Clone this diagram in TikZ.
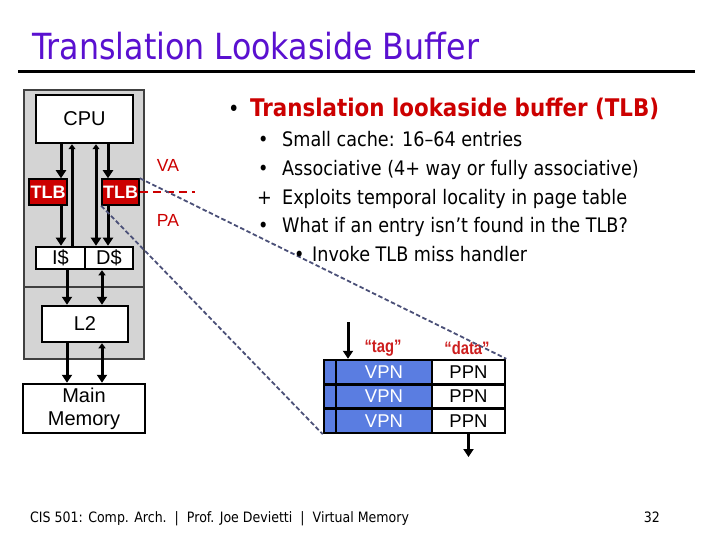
\documentclass[tikz,border=0pt]{standalone}
\usepackage{fontspec}
\usetikzlibrary{arrows.meta,calc}
\newfontfamily\tah{DejaVu Sans}[FakeStretch=0.88]
\newfontfamily\ari{Liberation Sans}
\newfontfamily\arn{Liberation Sans}[FakeStretch=0.82]
\newcommand\sz[1]{\fontsize{#1bp}{#1bp}\selectfont}
\newcommand\mmfont{\fontsize{20bp}{23bp}\selectfont}
\definecolor{ttl}{RGB}{90,16,208}
\definecolor{tlbred}{RGB}{204,0,0}
\definecolor{lblred}{RGB}{205,30,30}
\definecolor{vpnblue}{RGB}{90,125,225}
\definecolor{zoomline}{RGB}{75,80,120}
\definecolor{boxgray}{RGB}{212,212,212}
\begin{document}
\begin{tikzpicture}[x=1bp,y=-1bp,
  box/.style={draw=black, line width=2.5bp, fill=white, inner sep=0pt, font=\ari\sz{20}},
  tlbbox/.style={draw=black, line width=1.5bp, fill=tlbred, text=white, inner sep=0pt, font=\ari\bfseries\sz{18}},
  cell/.style={draw=black, line width=2.5bp, inner sep=0pt, minimum height=24.33bp, font=\ari\sz{18.5}},
  flow/.style={line width=3bp, -{Triangle[length=8bp,width=10bp]}},
  flowtwo/.style={line width=3bp, {Triangle[length=5bp,width=7bp]}-{Triangle[length=8bp,width=10bp]}},
  upflow/.style={line width=3bp, -{Triangle[length=5bp,width=7bp]}},
  lbl/.style={inner sep=0pt, text=tlbred, font=\ari\sz{17.5}},
  quote/.style={inner sep=0pt, text=lblred, font=\arn\bfseries\sz{18}},
  txt/.style={anchor=base west, inner sep=0pt, font=\tah\sz{20}},
  zoomdash/.style={zoomline, line width=1.8bp, dash pattern=on 4.5bp off 2.5bp}
]
\useasboundingbox[fill=white] (0,0) rectangle (720,540);

% title
\node[anchor=base west, inner sep=0pt, font=\tah\sz{36}, text=ttl] (title) at (32,60) {Translation Lookaside Buffer};
\coordinate (ruleL) at (18,72);
\coordinate (ruleR) at (695,72);
\draw[line width=3bp] (ruleL) -- (ruleR);

% gray processor area
\draw[fill=boxgray, draw=black!75, line width=1.5bp] (24,90) rectangle (144,287);
\draw[fill=boxgray, draw=black!75, line width=1.5bp] (24,287) rectangle (144,359);

% boxes
\node[box, minimum width=97bp, minimum height=48bp] (cpu) at (84.5,119) {CPU};
\node[tlbbox, minimum width=38bp, minimum height=26bp] (tlbl) at (48,192) {TLB};
\node[tlbbox, minimum width=37bp, minimum height=26bp] (tlbr) at (120.5,192) {TLB};
\node[box, minimum width=49bp, minimum height=22bp] (ic) at (60.5,258) {I\$};
\node[box, minimum width=48bp, minimum height=22bp] (dc) at (109,258) {D\$};
\node[box, minimum width=86bp, minimum height=36bp] (l2) at (85,324) {L2};
\node[box, minimum width=122bp, minimum height=49bp, align=center, font=\ari\mmfont] (mm) at (84,408.5) {Main\\Memory};

% helper x positions
\coordinate (x61) at (61,0);
\coordinate (x72) at (72,0);
\coordinate (x96) at (96,0);
\coordinate (x108) at (108,0);
\coordinate (x67) at (67,0);
\coordinate (x102) at (102,0);

% flows
\draw[flow] (cpu.south -| x61) -- (tlbl.north -| x61);
\draw[flow] (tlbl.south -| x61) -- (ic.north -| x61);
\draw[upflow] (ic.north -| x72) -- (cpu.south -| x72);
\draw[flowtwo] (cpu.south -| x96) -- (dc.north -| x96);
\draw[flow] (cpu.south -| x108) -- (tlbr.north -| x108);
\draw[flow] (tlbr.south -| x108) -- (dc.north -| x108);
\draw[flow] (ic.south -| x67) -- (l2.north -| x67);
\draw[flowtwo] (dc.south -| x102) -- (l2.north -| x102);
\draw[flow] (l2.south -| x67) -- (mm.north -| x67);
\draw[flowtwo] (l2.south -| x102) -- (mm.north -| x102);

% VA / PA
\coordinate (vaend) at (195,192);
\draw[tlbred, line width=2bp, dash pattern=on 8bp off 5bp] (tlbr.east) -- (vaend);
\node[lbl] (va) at (168,165) {VA};
\node[lbl] (pa) at (168,220) {PA};

% TLB table
\node[cell, fill=vpnblue, minimum width=12bp] (s1) at (330,372.2) {};
\node[cell, fill=vpnblue, text=white, minimum width=96bp] (v1) at (384,372.2) {VPN};
\node[cell, fill=white, minimum width=73bp] (p1) at (468.5,372.2) {PPN};
\node[cell, fill=vpnblue, minimum width=12bp] (s2) at (330,396.5) {};
\node[cell, fill=vpnblue, text=white, minimum width=96bp] (v2) at (384,396.5) {VPN};
\node[cell, fill=white, minimum width=73bp] (p2) at (468.5,396.5) {PPN};
\node[cell, fill=vpnblue, minimum width=12bp] (s3) at (330,420.8) {};
\node[cell, fill=vpnblue, text=white, minimum width=96bp] (v3) at (384,420.8) {VPN};
\node[cell, fill=white, minimum width=73bp] (p3) at (468.5,420.8) {PPN};

\node[quote] (tag) at (383,348) {“tag”};
\node[quote] (data) at (467,348) {“data”};

\coordinate (tin) at (348,322);
\draw[flow] (tin) -- (v1.north -| tin);
\coordinate (tout) at (468.5,457);
\draw[flow] (p3.south) -- (tout);

% zoom lines
\draw[zoomdash] (tlbr.north east) -- (p1.north east);
\draw[zoomdash] (tlbr.south west) -- (s3.south west);

% bullets
\node[txt, font=\tah\sz{22}] (b0) at (228,117) {•};
\node[txt, font=\tah\bfseries\sz{24.3}, text=tlbred] (h0) at (250,117) {Translation lookaside buffer (TLB)};
\node[txt] (b1) at (258,147) {•};
\node[txt] (t1) at (282,147) {Small cache: 16–64 entries};
\node[txt] (b2) at (258,176) {•};
\node[txt] (t2) at (282,176) {Associative (4+ way or fully associative)};
\node[txt] (b3) at (257,205) {+};
\node[txt] (t3) at (282,205) {Exploits temporal locality in page table};
\node[txt] (b4) at (258,233) {•};
\node[txt] (t4) at (282,233) {What if an entry isn’t found in the TLB?};
\node[txt] (b5) at (294,262) {•};
\node[txt] (t5) at (312,262) {Invoke TLB miss handler};

% footer
\node[anchor=base west, inner sep=0pt, font=\tah\sz{14.3}] (foot) at (30,522) {CIS 501: Comp. Arch.~~|~~Prof. Joe Devietti~~|~~Virtual Memory};
\node[anchor=base east, inner sep=0pt, font=\tah\sz{14.3}] (pg) at (660,522) {32};
\end{tikzpicture}
\end{document}
